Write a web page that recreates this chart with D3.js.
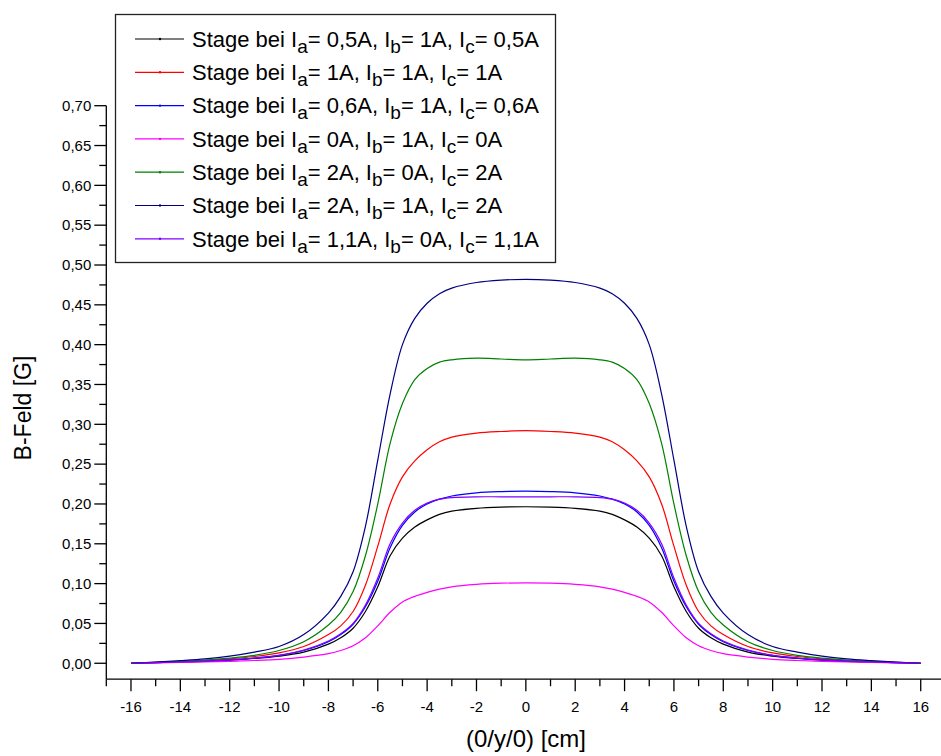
<!DOCTYPE html>
<html>
<head>
<meta charset="utf-8">
<script src="https://cdn.jsdelivr.net/npm/d3@7"></script>
<style>
  html, body { margin: 0; padding: 0; background: #fff; }
  svg { display: block; font-family: Arial, "Liberation Sans", sans-serif; }
</style>
</head>
<body>
<svg id="chart" width="941" height="756"></svg>
<script>
// Position along the axis (0/y/0) in cm
const positions = [-16,-15,-14,-13,-12,-11,-10,-9,-8,-7.5,-7,-6.5,-6,-5.5,-5,-4.5,-4,-3.5,-3,-2,-1,0,
                   1,2,3,3.5,4,4.5,5,5.5,6,6.5,7,7.5,8,9,10,11,12,13,14,15,16];

// Measured field B [G] for each coil current setting
const fieldA05B1C05 = [0,0.0008,0.0015,0.0025,0.004,0.006,0.009,0.014,0.024,0.032,0.044,0.065,0.096,0.135,0.157,0.171,0.180,0.187,0.191,0.1945,0.196,0.1965,
                       0.196,0.1945,0.191,0.187,0.180,0.171,0.157,0.135,0.096,0.065,0.044,0.032,0.024,0.014,0.009,0.006,0.004,0.0025,0.0015,0.0008,0];
const fieldA1B1C1     = [0,0.001,0.002,0.0035,0.0055,0.0085,0.013,0.021,0.036,0.047,0.065,0.098,0.147,0.200,0.234,0.254,0.268,0.278,0.284,0.289,0.291,0.292,
                       0.291,0.289,0.284,0.278,0.268,0.254,0.234,0.200,0.147,0.098,0.065,0.047,0.036,0.021,0.013,0.0085,0.0055,0.0035,0.002,0.001,0];
const fieldA06B1C06   = [0,0.0008,0.0016,0.0027,0.0042,0.0065,0.010,0.016,0.027,0.036,0.049,0.071,0.103,0.145,0.173,0.190,0.200,0.206,0.210,0.214,0.2155,0.216,
                       0.2155,0.214,0.210,0.206,0.200,0.190,0.173,0.145,0.103,0.071,0.049,0.036,0.027,0.016,0.010,0.0065,0.0042,0.0027,0.0016,0.0008,0];
const fieldA0B1C0     = [0,0.0005,0.001,0.0017,0.0025,0.0035,0.005,0.0078,0.012,0.016,0.022,0.032,0.047,0.064,0.077,0.084,0.089,0.093,0.096,0.099,0.1005,0.101,
                       0.1005,0.099,0.096,0.093,0.089,0.084,0.077,0.064,0.047,0.032,0.022,0.016,0.012,0.0078,0.005,0.0035,0.0025,0.0017,0.001,0.0005,0];
const fieldA2B0C2     = [0,0.0012,0.0025,0.004,0.0065,0.010,0.016,0.027,0.048,0.064,0.090,0.135,0.200,0.276,0.326,0.356,0.370,0.378,0.381,0.383,0.382,0.381,
                       0.382,0.383,0.381,0.378,0.370,0.356,0.326,0.276,0.200,0.135,0.090,0.064,0.048,0.027,0.016,0.010,0.0065,0.004,0.0025,0.0012,0];
const fieldA2B1C2     = [0,0.0015,0.0033,0.0055,0.009,0.014,0.021,0.036,0.063,0.084,0.115,0.172,0.255,0.338,0.400,0.433,0.452,0.464,0.471,0.478,0.481,0.482,
                       0.481,0.478,0.471,0.464,0.452,0.433,0.400,0.338,0.255,0.172,0.115,0.084,0.063,0.036,0.021,0.014,0.009,0.0055,0.0033,0.0015,0];
const fieldA11B0C11   = [0,0.0008,0.0016,0.0027,0.0043,0.0066,0.010,0.0165,0.028,0.037,0.050,0.073,0.107,0.150,0.176,0.192,0.201,0.206,0.208,0.209,0.209,0.209,
                       0.209,0.209,0.208,0.206,0.201,0.192,0.176,0.150,0.107,0.073,0.050,0.037,0.028,0.0165,0.010,0.0066,0.0043,0.0027,0.0016,0.0008,0];

// Legend: coil currents I_a, I_b, I_c
const currentsA = ["0,5A", "1A", "0,6A", "0A", "2A", "2A", "1,1A"];
const currentsB = ["1A", "1A", "1A", "1A", "0A", "1A", "0A"];
const currentsC = ["0,5A", "1A", "0,6A", "0A", "2A", "2A", "1,1A"];
const seriesColors = ["#000000", "#ff0000", "#0000ff", "#ff00ff", "#008000", "#000080", "#8000ff"];
const seriesValues = [fieldA05B1C05, fieldA1B1C1, fieldA06B1C06, fieldA0B1C0, fieldA2B0C2, fieldA2B1C2, fieldA11B0C11];

// Axis ticks
const xMajorTicks = [-16,-14,-12,-10,-8,-6,-4,-2,0,2,4,6,8,10,12,14,16];
const xMinorTicks = [-17,-15,-13,-11,-9,-7,-5,-3,-1,1,3,5,7,9,11,13,15,17];
const yMajorTicks = [0,0.05,0.10,0.15,0.20,0.25,0.30,0.35,0.40,0.45,0.50,0.55,0.60,0.65,0.70];
const yMinorTicks = [0.025,0.075,0.125,0.175,0.225,0.275,0.325,0.375,0.425,0.475,0.525,0.575,0.625,0.675];

const svg = d3.select("#chart");

const x = d3.scaleLinear().domain([-17, 17]).range([106.3, 945.4]);
const y = d3.scaleLinear().domain([-0.02, 0.70]).range([679.2, 105.7]);

const fmtY = v => d3.format(".2f")(v).replace(".", ",");

// Left axis
const yAxis = svg.append("g").attr("transform", `translate(${x(-17)},0)`);
yAxis.append("line").attr("y1", y(-0.02)).attr("y2", y(0.70)).attr("stroke", "#000").attr("stroke-width", 1.3);
yAxis.selectAll(".ymaj").data(yMajorTicks).join("line")
  .attr("x1", -12).attr("x2", 0).attr("y1", d => y(d)).attr("y2", d => y(d))
  .attr("stroke", "#000").attr("stroke-width", 1.3);
yAxis.selectAll(".ymin").data(yMinorTicks).join("line")
  .attr("x1", -7).attr("x2", 0).attr("y1", d => y(d)).attr("y2", d => y(d))
  .attr("stroke", "#000").attr("stroke-width", 1.3);
yAxis.selectAll("text").data(yMajorTicks).join("text")
  .attr("x", -15).attr("y", d => y(d)).attr("dy", "0.35em")
  .attr("text-anchor", "end").attr("font-size", 15).text(fmtY);

// Bottom axis
const xAxis = svg.append("g").attr("transform", `translate(0,${y(-0.02)})`);
xAxis.append("line").attr("x1", x(-17)).attr("x2", x(17)).attr("stroke", "#000").attr("stroke-width", 1.3);
xAxis.selectAll(".xmaj").data(xMajorTicks).join("line")
  .attr("x1", d => x(d)).attr("x2", d => x(d)).attr("y1", 0).attr("y2", 12)
  .attr("stroke", "#000").attr("stroke-width", 1.3);
xAxis.selectAll(".xmin").data(xMinorTicks).join("line")
  .attr("x1", d => x(d)).attr("x2", d => x(d)).attr("y1", 0).attr("y2", 7)
  .attr("stroke", "#000").attr("stroke-width", 1.3);
xAxis.selectAll("text").data(xMajorTicks).join("text")
  .attr("x", d => x(d)).attr("y", 33)
  .attr("text-anchor", "middle").attr("font-size", 15).text(d => d);

// Axis titles
svg.append("text").attr("x", 526).attr("y", 747).attr("text-anchor", "middle")
  .attr("font-size", 24).text("(0/y/0) [cm]");
svg.append("text").attr("transform", "translate(31,408) rotate(-90)").attr("text-anchor", "middle")
  .attr("font-size", 23).text("B-Feld [G]");

// Field curves
const line = d3.line().x((d, i) => x(positions[i])).y(d => y(d)).curve(d3.curveCatmullRom.alpha(0.5));
svg.append("g").selectAll("path").data(seriesValues).join("path")
  .attr("d", d => line(d))
  .attr("fill", "none")
  .attr("stroke", (d, i) => seriesColors[i])
  .attr("stroke-width", 1.2);

// Legend
const legend = svg.append("g");
legend.append("rect").attr("x", 115.5).attr("y", 14.5).attr("width", 440).attr("height", 248)
  .attr("fill", "#fff").attr("stroke", "#222").attr("stroke-width", 1.3);
const rowY = i => 39 + i * 33.3;
seriesColors.forEach((c, i) => {
  legend.append("line").attr("x1", 135).attr("x2", 184).attr("y1", rowY(i)).attr("y2", rowY(i))
    .attr("stroke", c).attr("stroke-width", 1.2);
  legend.append("circle").attr("cx", 160).attr("cy", rowY(i)).attr("r", 1.2).attr("fill", c);
  const t = legend.append("text").attr("x", 192).attr("y", rowY(i) + 7.7).attr("font-size", 22);
  t.append("tspan").text("Stage bei I");
  t.append("tspan").attr("font-size", 19).attr("dy", 6).text("a");
  t.append("tspan").attr("dy", -6).text("= " + currentsA[i] + ", I");
  t.append("tspan").attr("font-size", 19).attr("dy", 6).text("b");
  t.append("tspan").attr("dy", -6).text("= " + currentsB[i] + ", I");
  t.append("tspan").attr("font-size", 19).attr("dy", 6).text("c");
  t.append("tspan").attr("dy", -6).text("= " + currentsC[i]);
});
</script>
</body>
</html>
